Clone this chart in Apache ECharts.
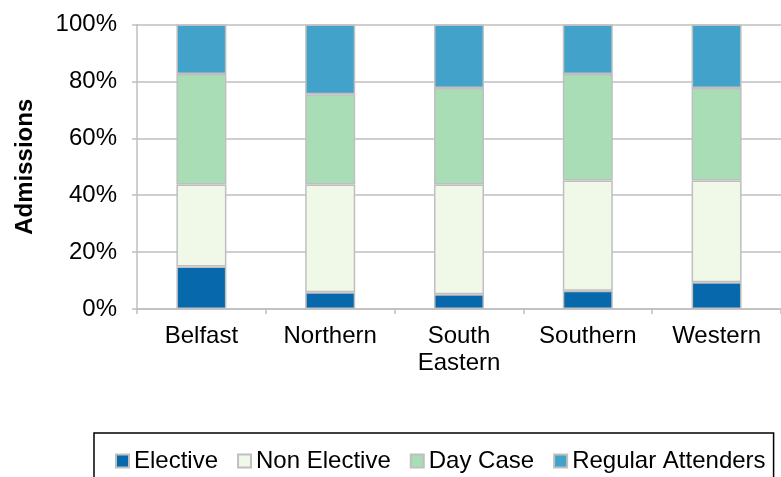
<!DOCTYPE html>
<html>
<head>
<meta charset="utf-8">
<style>
  html, body { margin: 0; padding: 0; background: #fff; }
  #main { width: 781px; height: 477px; }
</style>
<script src="https://cdn.jsdelivr.net/npm/echarts@6/dist/echarts.min.js"></script>
</head>
<body>
<div id="main"></div>
<script>
// percentages of admissions per trust
const categories = ['Belfast', 'Northern', 'South\nEastern', 'Southern', 'Western']
const elective = [14.9, 5.9, 5.2, 6.4, 9.4]
const nonElective = [28.9, 37.9, 38.6, 38.8, 35.8]
const dayCase = [38.8, 31.7, 33.9, 37.4, 32.5]
const regularAttenders = [17.4, 24.5, 22.3, 17.4, 22.3]

const font = "'Liberation Sans', Arial, sans-serif"
const grey = '#bfbfbf'

function bar(name, data, color) {
  return {
    name: name,
    type: 'bar',
    stack: 'total',
    barWidth: 50,
    data: data,
    itemStyle: {
      color: color,
      borderColor: grey,
      borderWidth: 1.5
    }
  }
}

const myChart = echarts.init(document.getElementById('main'))
myChart.setOption({
  animation: false,
  textStyle: { fontFamily: font },
  grid: {
    left: 137,
    right: -10,
    top: 24.5,
    bottom: 168
  },
  legend: {
    left: 94,
    top: 433,
    padding: [16, 8, 16, 21],
    borderColor: '#000',
    borderWidth: 1.5,
    itemGap: 19,
    itemWidth: 13,
    itemHeight: 13,
    icon: 'rect',
    textStyle: { fontSize: 24, color: '#000', fontFamily: font },
    data: ['Elective', 'Non Elective', 'Day Case', 'Regular Attenders']
  },
  xAxis: {
    type: 'category',
    data: categories,
    axisLine: { lineStyle: { color: grey, width: 1.5 } },
    axisTick: { show: true, length: 5, lineStyle: { color: grey, width: 1.5 } },
    axisLabel: {
      interval: 0,
      margin: 14,
      fontSize: 24,
      lineHeight: 27,
      color: '#000',
      fontFamily: font
    }
  },
  yAxis: {
    type: 'value',
    min: 0,
    max: 100,
    interval: 20,
    name: 'Admissions',
    nameLocation: 'middle',
    nameRotate: 90,
    nameGap: 100,
    nameTextStyle: { fontSize: 24, fontWeight: 'bold', color: '#000', fontFamily: font },
    axisLine: { show: true, lineStyle: { color: grey, width: 1.5 } },
    axisTick: { show: true, length: 5, lineStyle: { color: grey, width: 1.5 } },
    axisLabel: {
      formatter: '{value}%',
      margin: 20,
      fontSize: 24,
      color: '#000',
      fontFamily: font
    },
    splitLine: { lineStyle: { color: grey, width: 1.5 } }
  },
  series: [
    bar('Elective', elective, '#0868ac'),
    bar('Non Elective', nonElective, '#f0f9e8'),
    bar('Day Case', dayCase, '#a8ddb5'),
    bar('Regular Attenders', regularAttenders, '#43a2ca')
  ]
})
</script>
</body>
</html>
